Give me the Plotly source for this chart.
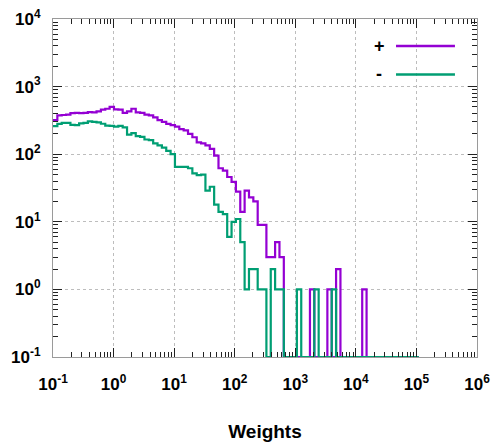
import numpy as np
import plotly.graph_objects as go

# ---- data ----
LOG_X_MIN = -1.0          # first bin edge = 10^-1
BIN_DLOG = 0.0719         # width of each histogram bin in decades

plus_counts = [
    320, 375, 380, 385, 405, 410, 405, 410, 420, 415,
    430, 455, 470, 500, 460, 455, 410, 430, 470, 415,
    410, 385, 375, 350, 320, 300, 280, 270, 255, 235,
    225, 200, 178, 150, 145, 135, 120, 95, 62, 57,
    46, 39, 28, 14, 29, 23, 20, 9, 9, 3,
    3, 5, 3, 0, 0, 0, 0, 0, 0, 1,
    0, 0, 0, 1, 0, 2, 0, 0, 0, 0,
    0, 1, 0, 0, 0, 0, 0, 0, 0, 0,
    0, 0, 0, 0,
]
minus_counts = [
    260, 280, 290, 290, 272, 270, 285, 290, 305, 300,
    295, 282, 265, 262, 255, 262, 250, 195, 205, 185,
    180, 165, 162, 145, 135, 125, 112, 100, 65, 65,
    65, 62, 52, 49, 50, 29, 33, 18, 14, 13,
    6, 10, 11, 5, 1, 2, 2, 1, 1, 0,
    2, 1, 1, 0, 0, 0, 1, 0, 0, 0,
    1, 0, 0, 0, 1, 0, 0, 0, 0, 0,
    0, 0, 0, 0, 0, 0, 0, 0, 0, 0,
    0, 0, 0, 0,
]
series_names = ["+", "-"]
series_colors = ["#9400D3", "#009E73"]

x_tick_vals = [1e-1, 1e0, 1e1, 1e2, 1e3, 1e4, 1e5, 1e6]
x_tick_text = ["10<sup>-1</sup>", "10<sup>0</sup>", "10<sup>1</sup>", "10<sup>2</sup>",
               "10<sup>3</sup>", "10<sup>4</sup>", "10<sup>5</sup>", "10<sup>6</sup>"]
y_tick_vals = [1e-1, 1e0, 1e1, 1e2, 1e3, 1e4]
y_tick_text = ["10<sup>-1</sup>", "10<sup>0</sup>", "10<sup>1</sup>", "10<sup>2</sup>",
               "10<sup>3</sup>", "10<sup>4</sup>"]
x_title = "Weights"

# ---- build figure ----
Y_FLOOR = 0.1  # bottom of the y range: empty bins are drawn on it

n_bins = len(plus_counts)
edges = 10 ** (LOG_X_MIN + BIN_DLOG * np.arange(n_bins + 1))


def step_values(counts):
    ys = [v if v > 0 else Y_FLOOR for v in counts]
    return ys + [ys[-1]]


FONT = "Liberation Sans, Arial, sans-serif"
fig = go.Figure()
for name, counts, color in zip(series_names, [plus_counts, minus_counts], series_colors):
    fig.add_trace(go.Scatter(
        x=edges, y=step_values(counts), name=name, mode="lines",
        line=dict(shape="hv", color=color, width=2.2),
        showlegend=False,
    ))


def minor_vals(lo, hi):
    out = []
    for e in range(lo, hi):
        for m in range(2, 10):
            out.append(m * 10.0 ** e)
    return out


bold = lambda t: "<b>" + t + "</b>"
axis_common = dict(
    type="log", showline=True, linecolor="#9a9a9a", linewidth=1, mirror="allticks",
    ticks="inside", ticklen=9, tickcolor="#222", tickwidth=1,
    showgrid=True, gridcolor="#bdbdbd", griddash="dot", gridwidth=1,
    zeroline=False, tickmode="array", automargin=False,
    tickfont=dict(family=FONT, size=17, color="black"),
)
fig.update_xaxes(
    **axis_common, range=[-1, 6], tickvals=x_tick_vals,
    ticktext=[bold(t) for t in x_tick_text], ticklabelstandoff=12,
    minor=dict(tickmode="array", tickvals=minor_vals(-1, 6), ticks="inside",
               ticklen=5, tickcolor="#222", showgrid=False),
    title=dict(text=bold(x_title), font=dict(family=FONT, size=19, color="black"), standoff=32),
)
fig.update_yaxes(
    **axis_common, range=[-1, 4], tickvals=y_tick_vals,
    ticktext=[bold(t) for t in y_tick_text], ticklabelstandoff=8,
    minor=dict(tickmode="array", tickvals=minor_vals(-1, 4), ticks="inside",
               ticklen=5, tickcolor="#222", showgrid=False),
)

# legend drawn gnuplot-style: label on the left, line sample on the right
legend_rows_y = [0.92, 0.836]
for name, color, yy in zip(series_names, series_colors, legend_rows_y):
    fig.add_shape(type="line", xref="paper", yref="paper", x0=0.809, x1=0.948,
                  y0=yy, y1=yy, line=dict(color=color, width=2.5))
    fig.add_annotation(xref="paper", yref="paper", x=0.77, y=yy, text=bold(name),
                       showarrow=False, xanchor="center", yanchor="middle",
                       font=dict(family=FONT, size=18, color="black"))

fig.update_layout(
    width=494, height=442,
    margin=dict(l=53, r=17, t=19, b=85),
    plot_bgcolor="white", paper_bgcolor="white",
    font=dict(family=FONT, size=16, color="black"),
)
fig.write_html("out.html")
